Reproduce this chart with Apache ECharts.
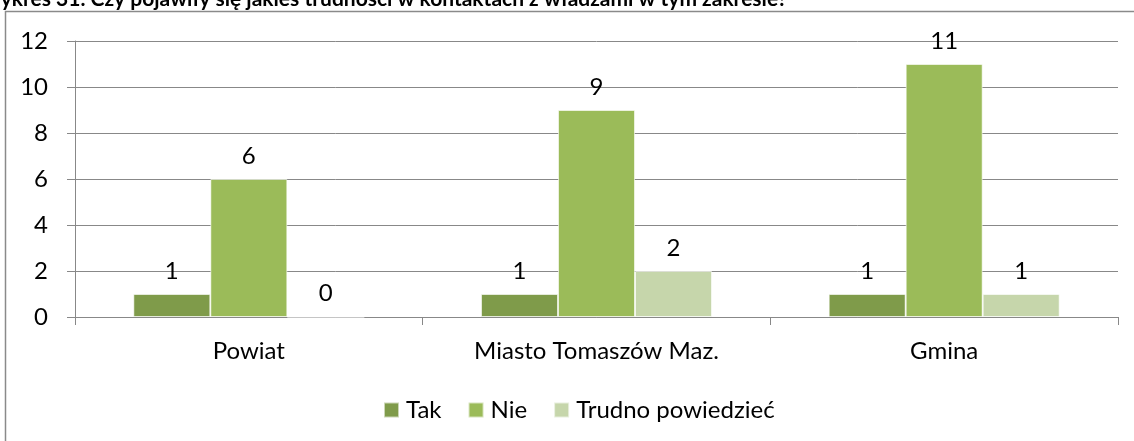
<!DOCTYPE html>
<html>
<head>
<meta charset="utf-8">
<script src="https://cdn.jsdelivr.net/npm/echarts@6/dist/echarts.min.js"></script>
<style>
    html, body { margin: 0; padding: 0; background: #fff; }
    #chart { width: 1134px; height: 441px; }
</style>
</head>
<body>
<div id="chart"></div>
<script>
var categories = ['Powiat', 'Miasto Tomaszów Maz.', 'Gmina'];
var tak = [1, 1, 1];
var nie = [6, 9, 11];
var trudno = [0, 2, 1];
var yTicks = { min: 0, max: 12, interval: 2 };
var titleText = 'Wykres 31. Czy pojawiły się jakieś trudności w kontaktach z władzami w tym zakresie?';

var font = 'Lato, "Open Sans", sans-serif';
var colors = ['#7f9b4a', '#9bbb59', '#c6d6ab'];

var chart = echarts.init(document.getElementById('chart'));

function barSeries(name, data) {
    return {
        name: name,
        type: 'bar',
        data: data,
        barWidth: 77,
        barGap: '0%',
        itemStyle: { borderColor: 'rgba(255,255,255,0.6)', borderWidth: 1 },
        label: {
            show: true,
            position: 'top',
            distance: 11,
            color: '#000',
            fontSize: 24,
            fontFamily: font
        }
    };
}

var option = {
    color: colors,
    animation: false,
    graphic: [
        {
            type: 'text',
            x: -21,
            y: 10,
            z: 1,
            style: {
                text: titleText,
                fill: '#000',
                font: 'bold 21px ' + font,
                verticalAlign: 'bottom'
            }
        },
        {
            type: 'rect',
            z: 2,
            shape: { x: 5.5, y: 11.5, width: 1140, height: 440 },
            style: { fill: 'none', stroke: '#8a8a8a', lineWidth: 1.5 },
            silent: true
        }
    ],
    grid: { left: 75, right: 16, top: 41, bottom: 124 },
    legend: {
        data: ['Tak', 'Nie', 'Trudno powiedzieć'],
        left: 378,
        top: 393,
        itemWidth: 15,
        itemHeight: 15,
        itemGap: 26,
        icon: 'rect',
        textStyle: { fontSize: 24, color: '#000', fontFamily: font, padding: [0, 0, 0, 2] }
    },
    xAxis: {
        type: 'category',
        data: categories,
        axisLine: { lineStyle: { color: '#888', width: 1 } },
        axisTick: { show: true, length: 8, lineStyle: { color: '#888' } },
        axisLabel: { fontSize: 24, color: '#000', fontFamily: font, margin: 22 }
    },
    yAxis: {
        type: 'value',
        min: yTicks.min,
        max: yTicks.max,
        interval: yTicks.interval,
        axisLine: { show: true, lineStyle: { color: '#888', width: 1 } },
        axisTick: { show: true, length: 8, lineStyle: { color: '#888' } },
        splitLine: { lineStyle: { color: '#888', width: 1 } },
        axisLabel: { fontSize: 24, color: '#000', fontFamily: font, margin: 27 }
    },
    series: [
        barSeries('Tak', tak),
        barSeries('Nie', nie),
        barSeries('Trudno powiedzieć', trudno)
    ]
};

chart.setOption(option);
</script>
</body>
</html>
